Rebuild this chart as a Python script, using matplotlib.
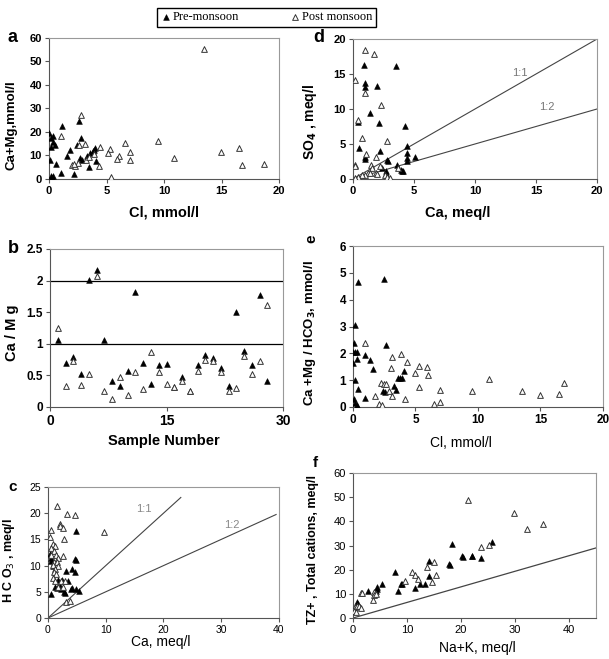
"""
Hydrochemistry scatter panels (a-f): pre- vs post-monsoon ionic ratios.
"""

import matplotlib
matplotlib.use('Agg')
import matplotlib.pyplot as plt
from matplotlib.ticker import FuncFormatter

# ---- data ----
# a: Ca+Mg vs Cl
a_pre_cl = [0.0, 0.2, 0.35, 0.2, 0.35, 0.5, 0.1, 0.6, 0.35, 0.2, 0.3, 1.1, 1.0, 1.6,
            1.8, 2.2, 2.6, 2.4, 2.8, 2.7, 2.9, 3.3, 3.5, 3.6, 3.8, 4.0, 4.1, 3.9]
a_pre_camg = [19.6, 17.4, 18.4, 13.6, 15.6, 14.6, 7.9, 6.5, 1.4, 1.1, 0.4, 22.4, 2.6, 9.9,
              12.5, 2.3, 24.5, 14.6, 17.4, 8.9, 8.2, 9.9, 5.1, 11.1, 11.8, 13.2, 7.8, 12.5]
a_post_cl = [13.5, 10.9, 14.9, 16.5, 16.8, 18.7, 9.5, 7.0, 7.0, 6.6, 6.1, 5.9, 5.3, 5.1,
             5.4, 4.4, 4.3, 3.1, 3.2, 2.75, 1.0, 2.6, 2.0, 2.3, 2.5, 2.2, 3.5, 3.9]
a_post_camg = [55.5, 9.0, 11.5, 13.0, 6.0, 6.5, 16.0, 11.3, 7.9, 15.3, 9.6, 8.5, 12.9, 11.0,
               0.7, 13.4, 5.4, 14.9, 8.0, 27.1, 18.3, 14.3, 6.0, 5.5, 7.0, 6.5, 9.5, 10.5]

# b: Ca/Mg by sample number
b_sample = list(range(1, 29))
b_pre = [1.06, 0.69, 0.79, 0.52, 2.01, 2.16, 1.06, 0.41, 0.34, 0.57, 1.82, 0.69, 0.37, 0.66,
         0.68, 0.32, 0.48, 0.26, 0.66, 0.83, 0.78, 0.61, 0.34, 1.51, 0.88, 0.66, 1.77, 0.41]
b_post = [1.25, 0.33, 0.73, 0.35, 0.52, 2.07, 0.26, 0.12, 0.47, 0.19, 0.55, 0.28, 0.87, 0.55,
          0.37, 0.31, 0.41, 0.25, 0.57, 0.74, 0.73, 0.56, 0.26, 0.30, 0.81, 0.52, 0.73, 1.62]
b_refs = [1, 2]

# c: HCO3 vs Ca
c_pre_ca = [4.9, 4.7, 4.8, 0.5, 0.6, 0.8, 3.2, 4.1, 4.6, 2.4, 3.5, 1.8, 1.2, 1.6,
            2.0, 2.3, 3.9, 2.8, 4.2, 4.8, 5.3, 0.6, 0.3, 3.0]
c_pre_hco3 = [16.6, 11.3, 11.1, 11.4, 10.8, 10.0, 8.9, 9.3, 8.7, 7.3, 7.1, 7.2, 6.0, 5.8,
              6.2, 5.5, 5.5, 5.0, 5.8, 5.6, 5.2, 4.5, 12.3, 4.7]
c_post_ca = [1.6, 3.3, 4.7, 2.0, 2.1, 2.6, 9.7, 0.3, 0.6, 0.9, 1.2, 2.7, 0.6, 1.0, 0.5,
             1.4, 1.8, 2.6, 1.1, 1.5, 1.7, 0.9, 1.2, 1.0, 1.4, 0.9, 1.3, 2.2, 2.9, 1.7,
             2.6, 3.2, 3.8]
c_post_hco3 = [21.3, 19.9, 19.6, 18.0, 17.6, 17.2, 16.4, 15.4, 16.8, 14.2, 13.8, 15.1, 13.3,
               12.8, 12.0, 12.0, 11.5, 11.8, 10.6, 10.7, 10.0, 10.2, 9.3, 8.7, 8.4, 7.7,
               7.1, 7.0, 7.0, 5.9, 5.9, 3.0, 3.3]
c_line11 = ([0, 23], [0, 23])
c_line12 = ([0, 39.5], [0, 19.75])

# d: SO4 vs Ca
d_pre_ca = [0.9, 3.5, 0.95, 0.95, 2.0, 1.4, 0.4, 2.1, 4.3, 0.5, 4.4, 2.2, 4.4, 4.4, 5.1,
            1.0, 1.0, 2.8, 2.9, 3.6, 4.4, 4.0, 4.1, 3.9, 2.7, 2.7, 2.4]
d_pre_so4 = [16.3, 16.2, 13.7, 13.2, 13.3, 9.4, 8.1, 8.0, 7.6, 4.4, 4.7, 4.0, 3.7, 3.0, 3.2,
             3.2, 2.8, 2.7, 2.6, 2.0, 2.5, 1.2, 1.1, 1.3, 1.1, 0.8, 1.6]
d_post_ca = [1.0, 1.7, 0.15, 1.0, 2.3, 0.4, 0.75, 2.8, 1.9, 1.1, 0.15, 0.2, 3.7, 1.5, 1.6,
             1.2, 1.4, 0.95, 0.7, 0.4, 2.6, 2.8, 3.0, 1.9, 2.0, 2.2, 0.2]
d_post_so4 = [18.5, 17.8, 14.1, 12.3, 10.5, 8.4, 5.8, 5.4, 3.1, 3.5, 2.0, 1.8, 1.6, 2.0, 1.5,
              0.9, 0.8, 0.6, 0.5, 0.3, 0.5, 0.3, 0.2, 0.9, 0.7, 1.8, 0.1]
d_line11 = ([0, 20], [0, 20])
d_line12 = ([0, 20], [0, 10])

# e: (Ca+Mg)/HCO3 vs Cl
e_pre_cl = [0.1, 0.15, 0.4, 2.45, 0.0, 0.15, 0.3, 0.35, 0.03, 1.0, 1.4, 1.6, 2.65, 4.05,
            0.15, 0.43, 0.95, 2.4, 2.55, 3.25, 3.45, 3.6, 3.75, 3.9, 0.1, 0.2, 0.3, 0.35]
e_pre_ratio = [2.38, 3.05, 4.65, 4.78, 2.06, 2.06, 2.06, 1.8, 1.65, 1.93, 1.75, 1.43, 2.3,
               1.36, 0.99, 0.68, 0.34, 0.6, 0.55, 0.78, 0.65, 1.09, 1.09, 1.09, 0.3, 0.15,
               0.08, 0.05]
e_post_cl = [0.95, 3.1, 3.85, 4.3, 3.05, 2.25, 2.5, 2.65, 2.85, 3.1, 1.75, 2.1, 2.3, 4.2,
             5.0, 5.3, 5.9, 6.0, 5.25, 6.45, 7.0, 7.0, 9.5, 10.9, 13.55, 14.95, 16.5, 16.9]
e_post_ratio = [2.38, 1.88, 1.96, 1.68, 1.46, 0.9, 0.85, 0.84, 0.59, 0.4, 0.4, 0.12, 0.08,
                0.3, 1.25, 1.52, 1.5, 1.2, 0.75, 0.1, 0.65, 0.19, 0.59, 1.06, 0.61, 0.43,
                0.5, 0.88]

# f: TZ+ vs Na+K
f_pre_nak = [25.8, 18.3, 20.1, 20.4, 22.0, 22.1, 23.8, 17.8, 18.0, 14.0, 7.8, 14.1, 8.9,
             9.1, 12.4, 13.4, 11.5, 8.3, 5.4, 4.4, 4.5, 4.2, 2.8, 0.8, 0.9, 0.2]
f_pre_tz = [31.5, 30.8, 25.5, 25.2, 25.8, 25.5, 25.0, 22.3, 22.0, 23.5, 19.0, 17.4, 14.2,
            14.0, 13.9, 13.9, 12.5, 11.0, 14.2, 13.0, 12.0, 11.2, 11.0, 6.5, 5.8, 3.3]
f_post_nak = [21.3, 29.8, 32.3, 35.1, 23.8, 25.2, 13.8, 15.0, 10.9, 11.5, 12.0, 15.3, 14.7,
              9.7, 1.4, 1.6, 3.9, 3.9, 3.8, 0.3, 0.7, 1.1, 1.5, 0.1, 0.5, 4.3]
f_post_tz = [48.9, 43.6, 36.9, 38.9, 29.2, 30.4, 21.1, 23.0, 19.0, 17.9, 16.0, 17.9, 15.1,
             15.3, 10.4, 10.2, 10.7, 9.7, 7.6, 4.5, 5.0, 4.8, 4.2, 3.1, 2.4, 10.0]
f_line = ([0, 45], [0, 29])

BOLD = dict(family='Liberation Sans', weight='bold')
NARROW = dict(family=['Liberation Sans Narrow', 'Liberation Sans'])
MS = 17


def style_axes(ax, xlim, ylim, xticks, yticks, bold=True, tick_size=8):
    ax.set_xlim(*xlim)
    ax.set_ylim(*ylim)
    ax.set_xticks(xticks)
    ax.set_yticks(yticks)
    ax.xaxis.set_major_formatter(FuncFormatter(lambda v, p: f'{v:g}'))
    ax.yaxis.set_major_formatter(FuncFormatter(lambda v, p: f'{v:g}'))
    ax.tick_params(direction='out', length=3, width=0.8, color='#555555', pad=2)
    font = BOLD if bold else NARROW
    for lab in ax.get_xticklabels() + ax.get_yticklabels():
        lab.set_fontsize(tick_size)
        lab.set_fontfamily(font['family'])
        if bold:
            lab.set_fontweight('bold')
    for side in ('left', 'bottom'):
        ax.spines[side].set_color('#555555')
    for side in ('top', 'right'):
        ax.spines[side].set_color('#999999')


def set_ylab(ax, text, x, y, size, **font):
    # x is where the right edge of the rotated label sits (axes coords)
    ax.set_ylabel(text, fontsize=size, **font)
    ax.yaxis.set_label_coords(x, y)


def scatter_pair(ax, x1, y1, x2, y2):
    h1 = ax.scatter(x1, y1, marker='^', s=MS, c='black', linewidths=0.4, zorder=3)
    h2 = ax.scatter(x2, y2, marker='^', s=MS, facecolors='white', edgecolors='#333333',
                    linewidths=0.7, zorder=3)
    return h1, h2


fig = plt.figure(figsize=(6.09, 6.59), dpi=100)

# Panel a
ax = fig.add_axes([0.0805, 0.7284, 0.378, 0.214])
h_pre, h_post = scatter_pair(ax, a_pre_cl, a_pre_camg, a_post_cl, a_post_camg)
style_axes(ax, (0, 20), (0, 60), [0, 5, 10, 15, 20], range(0, 61, 10))
ax.set_xlabel('Cl, mmol/l', fontsize=10.5, **BOLD)
ax.xaxis.set_label_coords(0.5, -0.19)
set_ylab(ax, 'Ca+Mg,mmol/l', -0.135, 0.38, 9.5, **BOLD)
fig.text(0.013, 0.943, 'a', fontsize=13, **BOLD, va='center')

# Panel d
ax = fig.add_axes([0.5796, 0.7284, 0.4007, 0.2124])
ax.plot(*d_line11, color='#444444', lw=0.8)
ax.plot(*d_line12, color='#444444', lw=0.8)
scatter_pair(ax, d_pre_ca, d_pre_so4, d_post_ca, d_post_so4)
ax.text(13.7, 14.7, '1:1', fontsize=8, color='#777777', ha='center', **NARROW)
ax.text(15.9, 9.8, '1:2', fontsize=8, color='#777777', ha='center', **NARROW)
style_axes(ax, (0, 20), (0, 20), [0, 5, 10, 15, 20], [0, 5, 10, 15, 20])
ax.set_xlabel('Ca, meq/l', fontsize=10.5, **BOLD)
ax.xaxis.set_label_coords(0.43, -0.19)
set_ylab(ax, 'SO$_\\mathbf{4}$ , meq/l', -0.14, 0.41, 10, **BOLD)
fig.text(0.515, 0.943, 'd', fontsize=13, **BOLD, va='center')

# Panel b
ax = fig.add_axes([0.0821, 0.3824, 0.3826, 0.2398])
for r in b_refs:
    ax.axhline(r, color='black', lw=0.9)
scatter_pair(ax, b_sample, b_pre, b_sample, b_post)
style_axes(ax, (0, 30), (0, 2.5), [0, 15, 30], [0, 0.5, 1, 1.5, 2, 2.5], tick_size=8.5)
for lab in ax.get_xticklabels():
    lab.set_fontsize(10)
ax.set_xlabel('Sample Number', fontsize=10.5, family=['Liberation Sans Narrow', 'Liberation Sans'],
              weight='bold')
ax.xaxis.set_label_coords(0.49, -0.17)
set_ylab(ax, 'Ca / M g', -0.135, 0.47, 10.5, **BOLD)
fig.text(0.013, 0.623, 'b', fontsize=13, **BOLD, va='center')

# Panel e
ax = fig.add_axes([0.5796, 0.3824, 0.4105, 0.2443])
scatter_pair(ax, e_pre_cl, e_pre_ratio, e_post_cl, e_post_ratio)
style_axes(ax, (0, 20), (0, 6), [0, 5, 10, 15, 20], range(0, 7), tick_size=8.5)
ax.set_xlabel('Cl, mmol/l', fontsize=10, **NARROW)
ax.xaxis.set_label_coords(0.43, -0.18)
set_ylab(ax, 'Ca +Mg / HCO$_\\mathbf{3}$, mmol/l', -0.14, 0.46, 9.5, **BOLD)
fig.text(0.512, 0.637, 'e', fontsize=11, **BOLD, rotation=90, ha='center', va='center')

# Panel c
ax = fig.add_axes([0.0788, 0.0622, 0.3793, 0.1988])
ax.plot(*c_line11, color='#444444', lw=0.8)
ax.plot(*c_line12, color='#444444', lw=0.8)
scatter_pair(ax, c_pre_ca, c_pre_hco3, c_post_ca, c_post_hco3)
ax.text(16.6, 20.3, '1:1', fontsize=8, color='#888888', ha='center', **NARROW)
ax.text(31.8, 17.2, '1:2', fontsize=8, color='#888888', ha='center', **NARROW)
style_axes(ax, (0, 40), (0, 25), [0, 10, 20, 30, 40], range(0, 26, 5), bold=False, tick_size=7.5)
ax.set_xlabel('Ca, meq/l', fontsize=10, **NARROW)
ax.xaxis.set_label_coords(0.49, -0.13)
set_ylab(ax, 'H C O$_3$ , meq/l', -0.135, 0.44, 9, weight='bold',
         family=['Liberation Sans Narrow', 'Liberation Sans'])
fig.text(0.021, 0.261, 'c', fontsize=11, **BOLD, va='center', ha='center')

# Panel f
ax = fig.add_axes([0.5796, 0.0622, 0.399, 0.22])
ax.plot(*f_line, color='#444444', lw=0.9)
scatter_pair(ax, f_pre_nak, f_pre_tz, f_post_nak, f_post_tz)
style_axes(ax, (0, 45), (0, 60), [0, 10, 20, 30, 40], range(0, 61, 10), bold=False, tick_size=8)
ax.set_xlabel('Na+K, meq/l', fontsize=10, **NARROW)
ax.xaxis.set_label_coords(0.51, -0.16)
set_ylab(ax, 'TZ+ , Total cations, meq/l', -0.14, 0.47, 9, weight='bold',
         family=['Liberation Sans Narrow', 'Liberation Sans'])
fig.text(0.517, 0.297, 'f', fontsize=11, **BOLD, va='center', ha='center')

# Shared legend on top
fig.legend([h_pre, h_post], ['Pre-monsoon', 'Post monsoon'], loc='upper center',
           bbox_to_anchor=(0.4376, 0.998), ncol=2, frameon=True, fancybox=False,
           edgecolor='black', framealpha=1, columnspacing=4.0, handletextpad=0.1,
           handlelength=0.9, borderpad=0.3,
           prop={'family': 'Liberation Serif', 'size': 9})

plt.savefig('out.png', dpi=100)
plt.close()
